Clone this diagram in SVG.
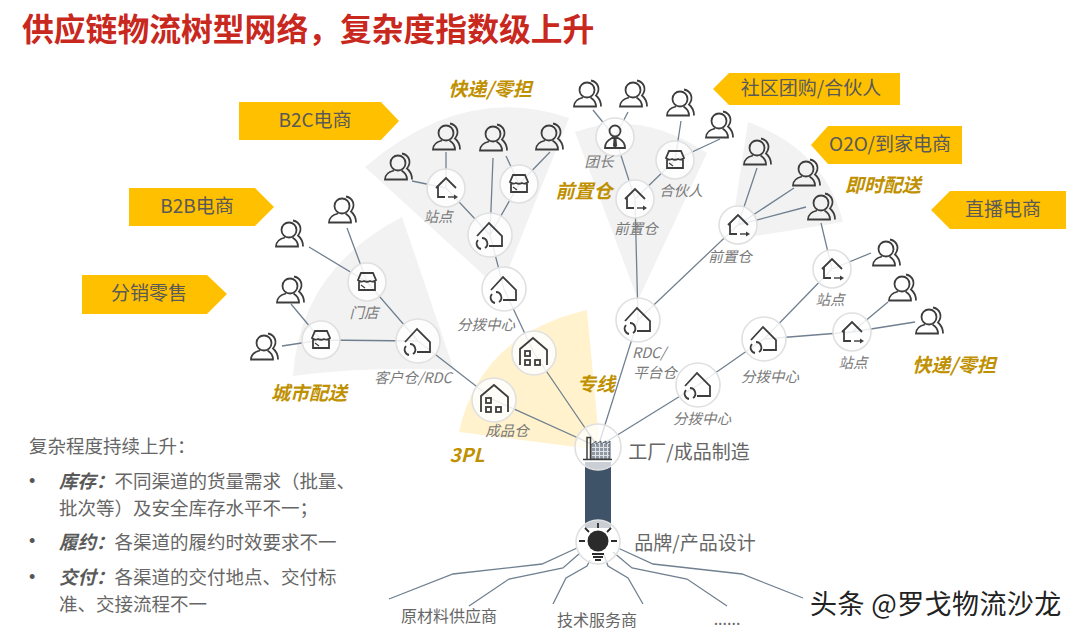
<svg xmlns="http://www.w3.org/2000/svg" width="1080" height="637" viewBox="0 0 1080 637">
<style>
text{font-family:"Noto Sans CJK SC","Noto Sans",sans-serif}
.sec{fill:#f2f2f2}
.ban{fill:#ffc000}
.bt{font-size:19px;fill:#595959;text-anchor:middle}
.c{fill:none;stroke:#708090;stroke-width:1.3}
.r{fill:#fff;fill-opacity:.85;stroke:#e0e0e0;stroke-width:1.6}
.i{fill:none;stroke:#3d3d3d;stroke-width:1.8}
.f{fill:#3d3d3d;stroke:none}
.l{font-size:14.500px;font-style:italic;fill:#7a7a7a;text-anchor:middle}
.g{font-size:19px;font-weight:700;font-style:italic;fill:#bf9000;text-anchor:middle}
.d{font-size:19px;fill:#666;text-anchor:middle}
.s{font-size:16px;fill:#666;text-anchor:middle}
.t{font-size:18.500px;fill:#666}
.u{font-family:"Liberation Sans",sans-serif;font-size:18px;fill:#555}
.b{font-weight:700;font-style:italic;fill:#595959}
</style>
<defs>
<pattern id="grid" width="4" height="4" patternUnits="userSpaceOnUse"><rect width="4" height="4" fill="#dfe2e6"/><rect width="3" height="3" fill="#8f98a3"/></pattern>
<g id="p" class="i"><circle cx="0" cy="-4" r="7.500"/><path d="M-4,3.500C-10,5-13,8-13,12.500H9C9,8 6,5 3.500,3.500"/><path d="M4,-13.500C11,-12 14,-5 9,1.500C12,4 14,8 14,12.500"/></g>
<g id="w" class="i"><path d="M-13,1L-1,-12L12,1V11H-1"/><path d="M-12,5A5.500,5.500 0 0 0-9,14M-5,13A5.500,5.500 0 0 0-8,3"/></g>
<g id="a" class="i"><path d="M-10,0L0,-10L10,0M-8,-2V9H-1"/><path d="M2,9H8" stroke-width="1.400"/><path class="f" d="M8,6.500L12,9L8,11.500Z"/></g>
<g id="m" class="i"><path d="M-6,-9H6L9,-2C7,0 5,0 3,-1C1,0-1,0-3,-1C-5,0-7,0-9,-2ZM-8,-1V8H8V-1"/><path d="M-6,3L-2,6" stroke-width="1.200"/></g>
<g id="h" class="i" stroke-width="1.500"><path d="M-14,12V-4L-1,-15L13,-3V12"/><rect x="-9" y="-2" width="5" height="5"/><rect x="-9" y="7" width="5" height="5"/><rect x="1" y="7" width="5" height="5"/></g>
</defs>

<g id="sectors">
<path class="sec" d="M293,376Q300,270 402,217L454,370Q370,366 293,376Z"/>
<path class="sec" d="M365,167Q465,82 569,118L500,290Z"/>
<path class="sec" d="M575,132Q640,108 707,153L638,300Z"/>
<path class="sec" d="M748,122Q825,150 843,222L730,240Z"/>
<path d="M459,432Q480,335 587,310L600,450Z" fill="#fff2cc"/>
</g>

<text id="title" x="22" y="41" font-size="31.800" font-weight="700" fill="#c8281e">供应链物流树型网络，复杂度指数级上升</text>

<g id="banners">
<g id="b-b2c"><path class="ban" d="M239,102H381L399,121L381,140H239Z"/><text class="bt" x="315" y="127">B2C电商</text></g>
<g id="b-b2b"><path class="ban" d="M129,188H255L274,207L255,226H129Z"/><text class="bt" x="197" y="213">B2B电商</text></g>
<g id="b-fx"><path class="ban" d="M82,275H207L227,294L207,314H82Z"/><text class="bt" x="149" y="300">分销零售</text></g>
<g id="b-sq"><path class="ban" d="M713,89L729,73H900V105H729Z"/><text class="bt" x="811" y="95">社区团购/合伙人</text></g>
<g id="b-o2o"><path class="ban" d="M811,145L828,126H962V164H828Z"/><text class="bt" x="890" y="151">O2O/到家电商</text></g>
<g id="b-zb"><path class="ban" d="M931,210L950,191H1066V229H950Z"/><text class="bt" x="1003" y="216">直播电商</text></g>
</g>

<rect id="trunk" x="585" y="462" width="26" height="66" fill="#3f5368"/>

<g id="connectors" class="c">
<path d="M598,447L494,400L418,341L367,282L309,247"/>
<path d="M418,341L321,340L282,346M321,340L291,304M367,282L347,228"/>
<path d="M598,447L534,353L504,289L490,235L519,184L550,152M519,184L506,156M490,235L493,158M490,235L446,188L446,152M446,188L412,181"/>
<path d="M598,447L638,320L635,199L615,137L593,110M615,137L628,112M635,199L675,160L720,139M675,160L681,121"/>
<path d="M638,320L738,225L757,168M738,225L794,188M738,225L806,207"/>
<path d="M598,447L698,385L764,339L832,269L821,223M832,269L871,253M764,339L852,332L888,302M852,332L915,322"/>
<path d="M389,599L453,574L542,564L577,548M469,606L509,579L563,568L580,553M553,604L566,578L587,566L590,560M643,604L628,578L608,566L604,555M727,606L687,579L632,568L613,552M803,598L742,574L653,564L618,548"/>
</g>

<g id="nodes">
<g id="n1"><circle class="r" cx="367" cy="282" r="19"/><use href="#m" x="367" y="282"/><text class="l" x="364" y="318">门店</text></g>
<g id="n2"><circle class="r" cx="321" cy="340" r="19"/><use href="#m" x="321" y="340"/></g>
<g id="n3"><circle class="r" cx="418" cy="341" r="22"/><use href="#w" x="418" y="341"/><text class="l" x="413" y="383">客户仓/RDC</text></g>
<g id="n4"><circle class="r" cx="494" cy="400" r="22"/><use href="#h" x="495" y="400"/><text class="l" x="507" y="436">成品仓</text></g>
<g id="n5"><circle class="r" cx="534" cy="353" r="22"/><use href="#h" x="534" y="353"/></g>
<g id="n6"><circle class="r" cx="504" cy="289" r="22"/><use href="#w" x="504" y="289"/><text class="l" x="486" y="330">分拨中心</text></g>
<g id="n7"><circle class="r" cx="490" cy="235" r="22"/><use href="#w" x="490" y="235"/></g>
<g id="n8"><circle class="r" cx="446" cy="188" r="19"/><use href="#a" x="446" y="188"/><text class="l" x="438" y="222">站点</text></g>
<g id="n9"><circle class="r" cx="519" cy="184" r="19"/><use href="#m" x="519" y="184"/></g>
<g id="n10"><circle class="r" cx="615" cy="137" r="19"/><g class="i"><circle cx="615" cy="131" r="5.500"/><path d="M605,148C605,141 610,139 612,138H618C620,139 625,141 625,148Z"/></g><path class="f" d="M613.500,139H616.500L617,146L615,148L613,146Z"/><text class="l" x="599" y="167">团长</text></g>
<g id="n11"><circle class="r" cx="675" cy="160" r="19"/><use href="#m" x="675" y="160"/><text class="l" x="681" y="196">合伙人</text></g>
<g id="n12"><circle class="r" cx="635" cy="199" r="19"/><use href="#a" x="635" y="199"/><text class="l" x="636" y="234">前置仓</text></g>
<g id="n13"><circle class="r" cx="738" cy="225" r="19"/><use href="#a" x="738" y="225"/><text class="l" x="730" y="262">前置仓</text></g>
<g id="n14"><circle class="r" cx="832" cy="269" r="19"/><use href="#a" x="832" y="269"/><text class="l" x="830" y="305">站点</text></g>
<g id="n15"><circle class="r" cx="852" cy="332" r="19"/><use href="#a" x="852" y="332"/><text class="l" x="853" y="368">站点</text></g>
<g id="n16"><circle class="r" cx="764" cy="339" r="22"/><use href="#w" x="764" y="339"/><text class="l" x="770" y="382">分拨中心</text></g>
<g id="n17"><circle class="r" cx="698" cy="385" r="22"/><use href="#w" x="698" y="385"/><text class="l" x="702" y="424">分拨中心</text></g>
<g id="n18"><circle class="r" cx="638" cy="320" r="22"/><use href="#w" x="638" y="320"/><text class="l" x="649" y="358">RDC/</text><text class="l" x="655" y="378">平台仓</text></g>
<g id="factory"><circle cx="598" cy="447" r="23" fill="#fff" fill-opacity=".72" stroke="#e0e0e0" stroke-width="1.600"/><path d="M591,459V445L596,441V444L601,441V444L606,441V444L610,441V459Z" fill="url(#grid)" stroke="#55606b" stroke-width="1"/><path d="M583,459.500H612" stroke="#3d3d3d" stroke-width="1.500"/><path d="M587,459V437.500H590.500V459" fill="none" stroke="#3d3d3d" stroke-width="1.500"/><text class="d" x="689" y="459">工厂/成品制造</text></g>
<g id="bulb"><circle cx="598" cy="542" r="22" fill="#fff" fill-opacity=".72" stroke="#e0e0e0" stroke-width="1.600"/><circle cx="598" cy="541" r="10.500" fill="#2b2b2b"/><path d="M598,523V528M585,528L589,532M611,528L607,532M579,541H585M617,541H611M592,554H604M593,557H603M595,560H601" fill="none" stroke="#2b2b2b" stroke-width="1.800"/><text class="d" x="695" y="550">品牌/产品设计</text></g>
<g id="p1"><use href="#p" x="264" y="347"/></g>
<g id="p2"><use href="#p" x="290" y="290"/></g>
<g id="p3"><use href="#p" x="289" y="234"/></g>
<g id="p4"><use href="#p" x="342" y="210"/></g>
<g id="p5"><use href="#p" x="398" y="167"/></g>
<g id="p6"><use href="#p" x="446" y="137"/></g>
<g id="p7"><use href="#p" x="493" y="138"/></g>
<g id="p8"><use href="#p" x="549" y="137"/></g>
<g id="p9"><use href="#p" x="587" y="94"/></g>
<g id="p10"><use href="#p" x="633" y="94"/></g>
<g id="p11"><use href="#p" x="680" y="103"/></g>
<g id="p12"><use href="#p" x="719" y="125"/></g>
<g id="p13"><use href="#p" x="757" y="152"/></g>
<g id="p14"><use href="#p" x="806" y="173"/></g>
<g id="p15"><use href="#p" x="821" y="207"/></g>
<g id="p16"><use href="#p" x="886" y="253"/></g>
<g id="p17"><use href="#p" x="902" y="288"/></g>
<g id="p18"><use href="#p" x="929" y="321"/></g>
</g>

<g id="labels">
<text class="g" x="490" y="96">快递/零担</text>
<text class="g" x="584" y="198">前置仓</text>
<text class="g" x="883" y="192">即时配送</text>
<text class="g" x="954" y="372">快递/零担</text>
<text class="g" x="309" y="400">城市配送</text>
<text class="g" x="596" y="391">专线</text>
<text class="g" x="467" y="462">3PL</text>
<text class="s" x="449" y="622">原材料供应商</text>
<text class="s" x="597" y="626">技术服务商</text>
<text class="s" x="727" y="625">......</text>
</g>

<g id="notes">
<text class="t" x="29" y="453">复杂程度持续上升：</text>
<text class="u" x="29" y="487">•</text>
<text class="t" x="59" y="488"><tspan class="b">库存：</tspan>不同渠道的货量需求（批量、</text>
<text class="t" x="59" y="515">批次等）及安全库存水平不一；</text>
<text class="u" x="29" y="547">•</text>
<text class="t" x="59" y="549"><tspan class="b">履约：</tspan>各渠道的履约时效要求不一</text>
<text class="u" x="29" y="583">•</text>
<text class="t" x="59" y="584"><tspan class="b">交付：</tspan>各渠道的交付地点、交付标</text>
<text class="t" x="59" y="611">准、交接流程不一</text>
</g>

<text id="watermark" x="810" y="614" font-size="27" letter-spacing=".4" fill="#222" stroke="#fff" stroke-width="2.500" paint-order="stroke">头条 @罗戈物流沙龙</text>
</svg>
